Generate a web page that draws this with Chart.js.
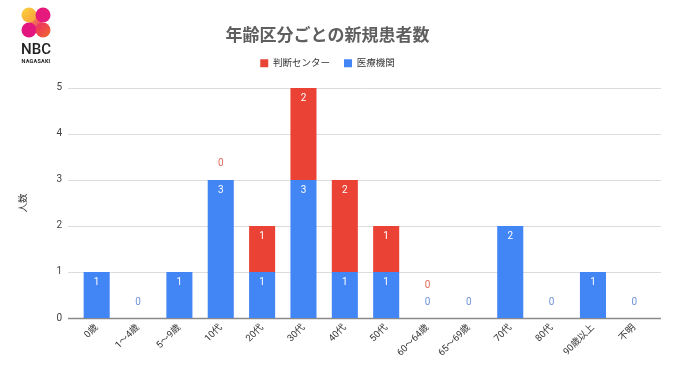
<!DOCTYPE html>
<html>
<head>
<meta charset="utf-8">
<script src="https://cdn.jsdelivr.net/npm/chart.js@4.4.1/dist/chart.umd.min.js"></script>
<style>
  html, body { margin: 0; padding: 0; background: #fff; }
  #wrap { position: relative; width: 680px; height: 382px; }
  #c { position: absolute; left: 0; top: 0; }
  #logo { position: absolute; left: 14px; top: 4px; }
</style>
</head>
<body>
<div id="wrap">
  <canvas id="c" width="680" height="382"></canvas>
  <svg id="logo" width="50" height="62" viewBox="0 0 50 62">
    <defs>
      <linearGradient id="gTL" x1="0" y1="0" x2="1" y2="1">
        <stop offset="0" stop-color="#fbd13e"/><stop offset="1" stop-color="#f7a03a"/>
      </linearGradient>
      <linearGradient id="gBR" x1="0" y1="0" x2="1" y2="1">
        <stop offset="0" stop-color="#ec2a6a"/><stop offset="1" stop-color="#f26a2a"/>
      </linearGradient>
      <linearGradient id="gMid" x1="0" y1="0" x2="1" y2="1">
        <stop offset="0" stop-color="#f6a33b"/><stop offset="1" stop-color="#e8287a"/>
      </linearGradient>
    </defs>
    <path d="M15 11 L29 26" stroke="url(#gMid)" stroke-width="9" stroke-linecap="round"/>
    <circle cx="15" cy="11" r="7.5" fill="url(#gTL)"/>
    <circle cx="29" cy="11" r="7.5" fill="#e6197c"/>
    <circle cx="15" cy="26" r="7.5" fill="#e3157f"/>
    <circle cx="29" cy="26" r="7.5" fill="url(#gBR)"/>
    <text x="22" y="50" text-anchor="middle" font-family="Roboto, 'Liberation Sans', sans-serif" font-size="15" font-weight="500" fill="#222">NBC</text>
    <text x="22" y="59" text-anchor="middle" font-family="Roboto, 'Liberation Sans', sans-serif" font-size="5.5" font-weight="700" fill="#222" letter-spacing="0.2">NAGASAKI</text>
  </svg>
</div>
<script>
const categories = ['0歳','1～4歳','5～9歳','10代','20代','30代','40代','50代','60～64歳','65～69歳','70代','80代','90歳以上','不明'];
const hospitalValues = [1, 0, 1, 3, 1, 3, 1, 1, 0, 0, 2, 0, 1, 0];
const centerValues = [null, null, null, 0, 1, 2, 2, 1, 0, null, null, null, null, null];
const seriesNames = ['医療機関', '判断センター'];
const yTicks = [0, 1, 2, 3, 4, 5];

const BLUE = '#4285f4';
const RED = '#ea4335';
const ZERO_COLORS = ['#6f93d9', '#e06b5f'];
const FONT = "Roboto, 'Noto Sans CJK JP', 'Noto Sans', sans-serif";

const legendSpace = {
  id: 'legendSpace',
  beforeLayout(chart) {
    const lg = chart.legend;
    if (lg && !lg._patched) {
      const orig = lg.fit;
      lg.fit = function () { orig.call(this); this.height += 10; };
      lg._patched = true;
    }
  }
};

const gridPlugin = {
  id: 'gridExt',
  beforeDatasetsDraw(chart) {
    const ctx = chart.ctx, y = chart.scales.y, a = chart.chartArea;
    ctx.save();
    yTicks.forEach(v => {
      const py = Math.round(y.getPixelForValue(v)) + 0.5;
      ctx.strokeStyle = v === 0 ? '#8a8a8a' : '#dcdcdc';
      ctx.lineWidth = v === 0 ? 1.3 : 1;
      ctx.beginPath();
      ctx.moveTo(a.left - 8, py);
      ctx.lineTo(a.right + 6, py);
      ctx.stroke();
    });
    ctx.restore();
  }
};

const labelPlugin = {
  id: 'valueLabels',
  afterDatasetsDraw(chart) {
    const ctx = chart.ctx;
    ctx.save();
    ctx.font = '10px ' + FONT;
    ctx.textAlign = 'center';
    ctx.textBaseline = 'middle';
    const zeroCount = {};
    chart.data.datasets.forEach((ds, di) => {
      const meta = chart.getDatasetMeta(di);
      meta.data.forEach((el, i) => {
        const v = ds.data[i];
        if (v === null || v === undefined) return;
        if (v > 0) {
          ctx.fillStyle = '#ffffff';
          ctx.fillText(String(v), el.x, el.y + 11);
        } else {
          const n = zeroCount[i] || 0;
          ctx.fillStyle = ZERO_COLORS[di];
          ctx.fillText('0', el.x, el.y - 16 - n * 17);
          zeroCount[i] = n + 1;
        }
      });
    });
    ctx.restore();
  }
};

new Chart(document.getElementById('c'), {
  type: 'bar',
  data: {
    labels: categories,
    datasets: [
      { label: seriesNames[0], data: hospitalValues, backgroundColor: BLUE, stack: 's' },
      { label: seriesNames[1], data: centerValues, backgroundColor: RED, stack: 's' }
    ]
  },
  options: {
    responsive: false,
    animation: false,
    devicePixelRatio: 1,
    layout: { padding: { top: 0, right: 25, bottom: 0, left: 0 } },
    datasets: { bar: { categoryPercentage: 1, barPercentage: 0.63 } },
    plugins: {
      title: {
        display: true,
        text: '年齢区分ごとの新規患者数',
        color: '#5f5f5f',
        font: { family: FONT, size: 17, weight: 'bold' },
        padding: { top: 27, bottom: -3 }
      },
      legend: {
        display: true,
        reverse: true,
        labels: {
          boxWidth: 8, boxHeight: 8, padding: 14,
          color: '#333',
          font: { family: FONT, size: 9.5 }
        }
      },
      tooltip: { enabled: false }
    },
    scales: {
      x: {
        stacked: true,
        grid: { display: false, drawTicks: false },
        border: { display: false },
        ticks: {
          color: '#333', font: { family: FONT, size: 9.5 },
          maxRotation: 45, minRotation: 45, padding: 4, autoSkip: false
        },
        afterFit(s) { s.height = 64; }
      },
      y: {
        stacked: true,
        min: 0, max: 5,
        grid: { display: false, drawTicks: false },
        border: { display: false },
        ticks: {
          stepSize: 1, color: '#444', padding: 14,
          font: { family: FONT, size: 10 }
        },
        title: {
          display: true, text: '人数', color: '#333',
          font: { family: FONT, size: 9.5 },
          padding: { top: 18, bottom: 0 }
        },
        afterFit(s) { s.width = 76; }
      }
    }
  },
  plugins: [legendSpace, gridPlugin, labelPlugin]
});
</script>
</body>
</html>
